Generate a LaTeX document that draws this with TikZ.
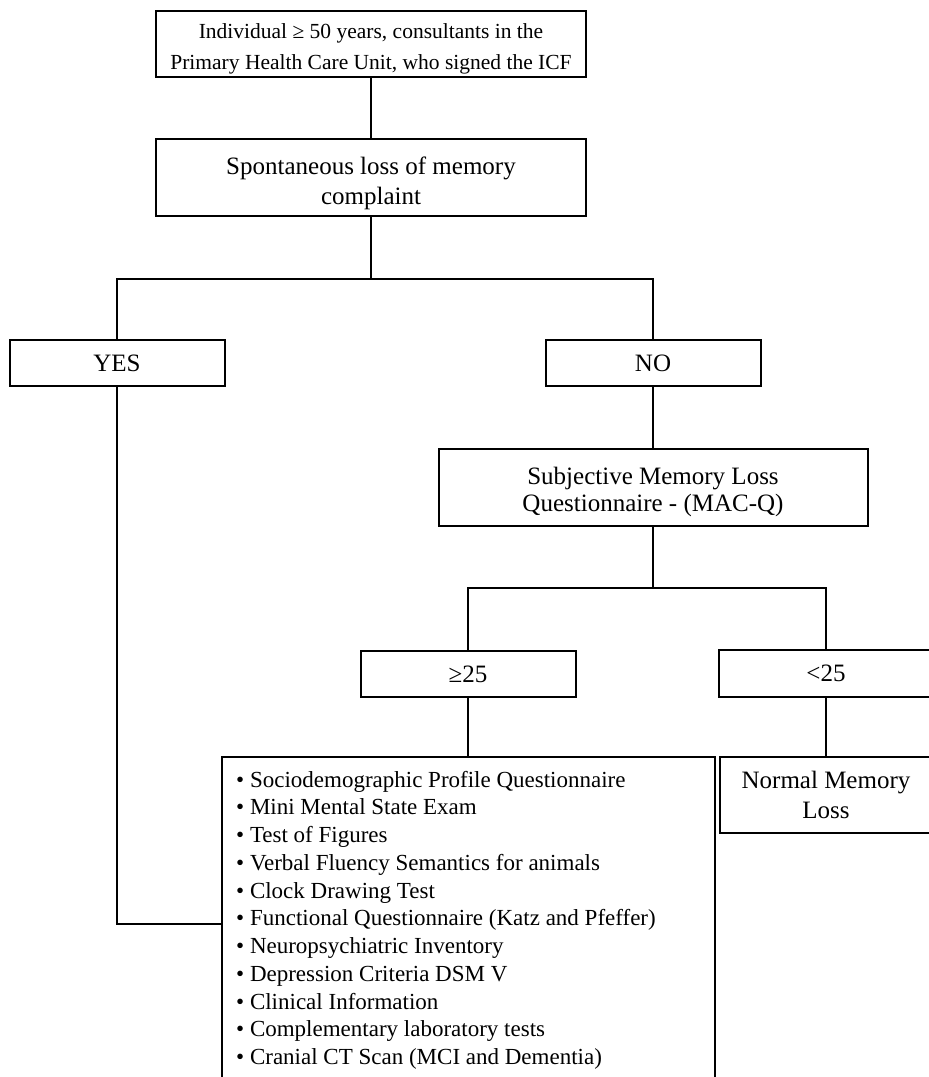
\documentclass[tikz,border=0pt]{standalone}
\usepackage{fontspec}
\setmainfont{Liberation Serif}
\newcommand\szTop{\fontsize{21.5}{31}\selectfont}
\newcommand\szMain{\fontsize{25}{30}\selectfont}
\newcommand\szMacq{\fontsize{25}{27}\selectfont}
\newcommand\szList{\fontsize{23}{27.75}\selectfont}
\tikzset{
  box/.style={draw, line width=2pt, inner sep=0pt, align=center},
  boxtext/.style={align=center, inner sep=0pt},
  link/.style={draw, line width=2pt},
  item/.style={anchor=base west, inner sep=0pt, font=\szList}
}
\begin{document}
\begin{tikzpicture}[x=1pt, y=-1pt]
  \useasboundingbox (0,0) rectangle (929,1077);
  \clip (0,0) rectangle (929,1077);

  % boxes
  \node[box, minimum width=430pt, minimum height=66pt,
        label={[boxtext, font=\szTop, yshift=-4.5pt]center:Individual ≥ 50 years, consultants in the\\Primary Health Care Unit, who signed the ICF}]
        (top) at (371,44) {};
  \node[box, minimum width=430pt, minimum height=77pt,
        label={[boxtext, font=\szMain, yshift=-6pt]center:Spontaneous loss of memory\\complaint}]
        (spont) at (371,177.5) {};
  \node[box, minimum width=215pt, minimum height=46pt, font=\szMain] (yes) at (117,363) {YES};
  \node[box, minimum width=215pt, minimum height=46pt, font=\szMain] (no) at (653,363) {NO};
  \node[box, minimum width=429pt, minimum height=77pt,
        label={[boxtext, font=\szMacq, yshift=-4pt]center:Subjective Memory Loss\\Questionnaire - (MAC-Q)}]
        (macq) at (653,487.5) {};
  \node[box, minimum width=215pt, minimum height=46pt, font=\szMain] (ge) at (468,674) {≥25};
  \node[box, minimum width=215pt, minimum height=47pt, font=\szMain] (lt) at (826,673.5) {<25};
  \node[box, minimum width=493pt, minimum height=333pt] (list) at (468.5,923.5) {};
  \node[box, minimum width=212pt, minimum height=76pt, font=\szMain] (normal) at (826,795)
    {Normal Memory\\Loss};

  % list of assessments
  \foreach \t [count=\i] in {
      {Sociodemographic Profile Questionnaire},
      {Mini Mental State Exam},
      {Test of Figures},
      {Verbal Fluency Semantics for animals},
      {Clock Drawing Test},
      {Functional Questionnaire (Katz and Pfeffer)},
      {Neuropsychiatric Inventory},
      {Depression Criteria DSM V},
      {Clinical Information},
      {Complementary laboratory tests},
      {Cranial CT Scan (MCI and Dementia)}}
    \node[item] (item\i) at (236,{787+27.75*(\i-1)}) {• \t};

  % connectors
  \coordinate (j1) at (371,279);
  \coordinate (j2) at (653,588);
  \draw[link] (top.south) -- (spont.north);
  \draw[link] (spont.south) -- (j1);
  \draw[link] (yes.north) |- (j1) -| (no.north);
  \draw[link] (no.south) -- (macq.north);
  \draw[link] (macq.south) -- (j2);
  \draw[link] (ge.north) |- (j2) -| (lt.north);
  \draw[link] (ge.south) -- (ge.south |- list.north);
  \draw[link] (lt.south) -- (lt.south |- normal.north);
  \draw[link] (yes.south) |- (list.west);
\end{tikzpicture}
\end{document}
